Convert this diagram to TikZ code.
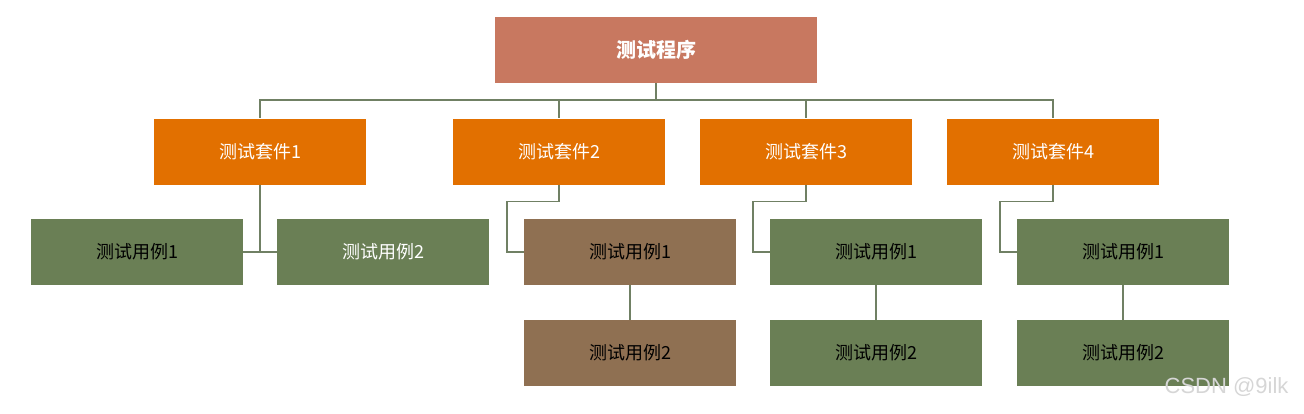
\documentclass[tikz,border=0pt]{standalone}
\usepackage{fontspec}
\setmainfont{Noto Sans CJK SC}
\newfontfamily\wmfont{Liberation Sans}
\definecolor{rootred}{RGB}{200,120,96}
\definecolor{suiteorange}{RGB}{226,112,0}
\definecolor{casegreen}{RGB}{106,127,85}
\definecolor{casebrown}{RGB}{143,112,82}
\definecolor{linkgray}{RGB}{112,128,100}
\tikzset{
  box/.style={rectangle,minimum width=212pt,minimum height=66pt,inner sep=0pt,font=\fontsize{18}{21}\selectfont},
  rootbox/.style={box,minimum width=322pt,fill=rootred,text=white,font=\fontsize{20}{24}\selectfont\bfseries},
  suitebox/.style={box,fill=suiteorange,text=white},
  casebox/.style={box,fill=casegreen,text=black},
  link/.style={draw=linkgray,line width=1.5pt}
}
\begin{document}
\begin{tikzpicture}[x=1pt,y=-1pt]
\useasboundingbox (0,0) rectangle (1304,413);
% Gốc
\node[rootbox] (root) at (656,50) {测试程序};
% Các bộ kiểm thử
\node[suitebox] (s1) at (260,151.5) {测试套件1};
\node[suitebox] (s2) at (559,151.5) {测试套件2};
\node[suitebox] (s3) at (806,151.5) {测试套件3};
\node[suitebox] (s4) at (1053,151.5) {测试套件4};
% Nhánh 1
\node[casebox] (c11) at (137,252) {测试用例1};
\node[casebox,text=white] (c12) at (383,252) {测试用例2};
% Nhánh 2,3,4
\node[casebox,fill=casebrown] (c21) at (630,252) {测试用例1};
\node[casebox,fill=casebrown] (c22) at (630,353) {测试用例2};
\node[casebox] (c31) at (876,252) {测试用例1};
\node[casebox] (c32) at (876,353) {测试用例2};
\node[casebox] (c41) at (1123,252) {测试用例1};
\node[casebox] (c42) at (1123,353) {测试用例2};
% Đường nối
\foreach \s in {1,2,3,4}
\draw[link] (root.south) -- ++(0,17) -| (s\s.north);
\draw[link] (s1.south) |- (c11.east);
\draw[link] (s1.south) |- (c12.west);
\foreach \s in {2,3,4}{
\draw[link] (s\s.south) -- ++(0,17) -| ([xshift=-17pt]c\s1.west) -- (c\s1.west);
\draw[link] (c\s1.south) -- (c\s2.north);
}
% Chữ mờ
\node[font=\wmfont\fontsize{22}{26}\selectfont,text=black!16,anchor=east] (wm) at (1292,387) {CSDN @9ilk};
\end{tikzpicture}
\end{document}
